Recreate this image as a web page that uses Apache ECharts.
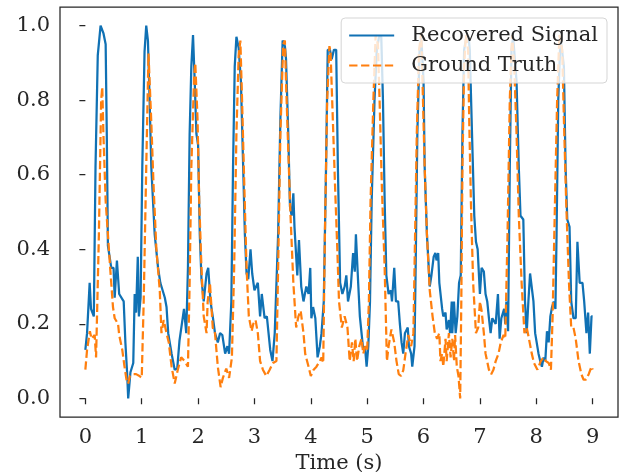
<!DOCTYPE html>
<html>
<head>
<meta charset="utf-8">
<script src="https://cdn.jsdelivr.net/npm/echarts@6/dist/echarts.min.js"></script>
<style>
  html, body { margin: 0; padding: 0; background: #fff; }
  #chart { width: 623px; height: 472px; }
</style>
</head>
<body>
<div id="chart"></div>
<script>
// [time (s), value]
const recoveredSignal = [
  [0, 0.13], [0.03, 0.175], [0.076, 0.31], [0.1, 0.24], [0.15, 0.22], [0.18, 0.62], [0.22, 0.92],
  [0.27, 1.0], [0.32, 0.98], [0.36, 0.95], [0.38, 0.71], [0.4, 0.41], [0.46, 0.35], [0.5, 0.35],
  [0.52, 0.27], [0.56, 0.37], [0.6, 0.28], [0.63, 0.28], [0.68, 0.26], [0.71, 0.15], [0.74, 0.07],
  [0.76, 0.0], [0.8, 0.07], [0.85, 0.095], [0.875, 0.28], [0.9, 0.23], [0.93, 0.38], [0.95, 0.22],
  [0.98, 0.27], [1.01, 0.62], [1.05, 0.93], [1.08, 1.0], [1.11, 0.96], [1.14, 0.8], [1.17, 0.62],
  [1.23, 0.44], [1.29, 0.35], [1.33, 0.31], [1.37, 0.29], [1.41, 0.27], [1.44, 0.245], [1.47, 0.175],
  [1.53, 0.12], [1.585, 0.077], [1.63, 0.08], [1.67, 0.155], [1.7, 0.15], [1.75, 0.24], [1.79, 0.175],
  [1.82, 0.35], [1.85, 0.71], [1.88, 0.89], [1.91, 0.975], [1.94, 0.85], [1.97, 0.71], [2.0, 0.68],
  [2.03, 0.44], [2.06, 0.32], [2.1, 0.26], [2.15, 0.335], [2.18, 0.35], [2.22, 0.26], [2.26, 0.22],
  [2.3, 0.175], [2.35, 0.15], [2.39, 0.175], [2.43, 0.17], [2.48, 0.12], [2.52, 0.14], [2.55, 0.12],
  [2.59, 0.26], [2.62, 0.62], [2.65, 0.89], [2.68, 0.97], [2.72, 0.94], [2.76, 0.85], [2.8, 0.62],
  [2.83, 0.44], [2.86, 0.335], [2.89, 0.32], [2.93, 0.4], [2.96, 0.335], [3.0, 0.29], [3.06, 0.31],
  [3.1, 0.22], [3.13, 0.28], [3.18, 0.215], [3.22, 0.22], [3.25, 0.175], [3.28, 0.13], [3.32, 0.1],
  [3.36, 0.175], [3.42, 0.44], [3.46, 0.75], [3.5, 0.96], [3.54, 0.945], [3.56, 0.91], [3.6, 0.71],
  [3.63, 0.515], [3.66, 0.49], [3.69, 0.55], [3.71, 0.46], [3.76, 0.33], [3.79, 0.425], [3.83, 0.3],
  [3.87, 0.26], [3.92, 0.3], [3.96, 0.28], [3.99, 0.35], [4.01, 0.215], [4.04, 0.245], [4.08, 0.215],
  [4.12, 0.11], [4.16, 0.14], [4.19, 0.175], [4.23, 0.26], [4.27, 0.62], [4.3, 0.935], [4.34, 0.935],
  [4.37, 0.91], [4.41, 0.935], [4.45, 0.935], [4.48, 0.62], [4.52, 0.31], [4.56, 0.28], [4.6, 0.3],
  [4.63, 0.33], [4.66, 0.26], [4.71, 0.3], [4.75, 0.39], [4.78, 0.34], [4.8, 0.44], [4.84, 0.31],
  [4.87, 0.22], [4.9, 0.175], [4.93, 0.13], [4.96, 0.14], [4.99, 0.085], [5.02, 0.14], [5.05, 0.26],
  [5.08, 0.53], [5.13, 0.8], [5.17, 0.935], [5.21, 0.97], [5.25, 0.97], [5.28, 0.8], [5.31, 0.53],
  [5.34, 0.33], [5.38, 0.28], [5.42, 0.29], [5.44, 0.26], [5.48, 0.35], [5.51, 0.26], [5.55, 0.26],
  [5.58, 0.2], [5.61, 0.15], [5.64, 0.12], [5.67, 0.175], [5.72, 0.19], [5.74, 0.14], [5.78, 0.12],
  [5.8, 0.085], [5.84, 0.14], [5.86, 0.35], [5.89, 0.71], [5.93, 0.935], [5.96, 0.97], [6.0, 0.85],
  [6.02, 0.62], [6.06, 0.44], [6.11, 0.3], [6.14, 0.33], [6.18, 0.38], [6.21, 0.39], [6.23, 0.37],
  [6.26, 0.39], [6.28, 0.31], [6.33, 0.24], [6.35, 0.22], [6.39, 0.23], [6.41, 0.185], [6.45, 0.21],
  [6.47, 0.175], [6.5, 0.26], [6.51, 0.175], [6.54, 0.26], [6.57, 0.175], [6.6, 0.22], [6.63, 0.31],
  [6.66, 0.33], [6.69, 0.71], [6.72, 0.935], [6.76, 0.97], [6.8, 0.97], [6.82, 0.935], [6.86, 0.71],
  [6.9, 0.49], [6.93, 0.42], [6.96, 0.4], [7.0, 0.28], [7.03, 0.35], [7.07, 0.34], [7.1, 0.28],
  [7.13, 0.26], [7.16, 0.215], [7.19, 0.175], [7.22, 0.215], [7.25, 0.22], [7.28, 0.2], [7.32, 0.28],
  [7.35, 0.16], [7.38, 0.215], [7.43, 0.24], [7.45, 0.2], [7.47, 0.26], [7.5, 0.18], [7.53, 0.62],
  [7.56, 0.935], [7.59, 0.97], [7.65, 0.85], [7.69, 0.62], [7.72, 0.49], [7.77, 0.48], [7.8, 0.26],
  [7.83, 0.175], [7.86, 0.26], [7.89, 0.335], [7.92, 0.33], [7.95, 0.26], [7.98, 0.175], [8.0, 0.18],
  [8.04, 0.12], [8.07, 0.1], [8.1, 0.085], [8.13, 0.11], [8.16, 0.1], [8.19, 0.18], [8.22, 0.15],
  [8.25, 0.22], [8.28, 0.245], [8.31, 0.26], [8.34, 0.24], [8.36, 0.44], [8.39, 0.8], [8.43, 0.97],
  [8.46, 0.97], [8.49, 0.89], [8.52, 0.62], [8.55, 0.48], [8.59, 0.46], [8.62, 0.26], [8.66, 0.215],
  [8.7, 0.215], [8.73, 0.42], [8.77, 0.31], [8.82, 0.31], [8.85, 0.26], [8.89, 0.175], [8.92, 0.23],
  [8.95, 0.12], [8.98, 0.22], [9.0, 0.22]
];

const groundTruth = [
  [0, 0.077], [0.03, 0.13], [0.08, 0.18], [0.11, 0.16], [0.165, 0.17], [0.19, 0.11], [0.24, 0.44],
  [0.28, 0.8], [0.3, 0.835], [0.32, 0.71], [0.36, 0.53], [0.4, 0.44], [0.44, 0.35], [0.49, 0.245],
  [0.52, 0.215], [0.58, 0.2], [0.6, 0.17], [0.655, 0.13], [0.69, 0.09], [0.73, 0.05], [0.76, 0.04],
  [0.79, 0.06], [0.85, 0.065], [0.9, 0.065], [0.96, 0.06], [1.0, 0.055], [1.035, 0.26], [1.08, 0.62],
  [1.12, 0.925], [1.14, 0.93], [1.17, 0.74], [1.21, 0.57], [1.26, 0.4], [1.32, 0.29], [1.35, 0.175],
  [1.39, 0.21], [1.44, 0.175], [1.48, 0.15], [1.53, 0.085], [1.585, 0.04], [1.64, 0.077], [1.7, 0.11],
  [1.76, 0.1], [1.82, 0.085], [1.85, 0.31], [1.88, 0.62], [1.93, 0.865], [1.95, 0.9], [1.99, 0.75],
  [2.02, 0.53], [2.06, 0.35], [2.1, 0.22], [2.15, 0.175], [2.17, 0.26], [2.21, 0.31], [2.26, 0.19],
  [2.3, 0.175], [2.35, 0.085], [2.4, 0.03], [2.44, 0.055], [2.5, 0.08], [2.55, 0.055], [2.6, 0.11],
  [2.64, 0.35], [2.68, 0.71], [2.72, 0.92], [2.75, 0.96], [2.78, 0.8], [2.82, 0.57], [2.86, 0.35],
  [2.9, 0.22], [2.95, 0.18], [2.98, 0.2], [3.02, 0.21], [3.06, 0.175], [3.1, 0.1], [3.15, 0.077],
  [3.21, 0.06], [3.27, 0.077], [3.33, 0.095], [3.39, 0.1], [3.42, 0.35], [3.46, 0.71], [3.51, 0.95],
  [3.54, 0.96], [3.56, 0.85], [3.6, 0.665], [3.64, 0.49], [3.69, 0.31], [3.74, 0.19], [3.78, 0.22],
  [3.82, 0.235], [3.87, 0.175], [3.9, 0.12], [3.96, 0.085], [4.0, 0.06], [4.05, 0.077], [4.1, 0.085],
  [4.16, 0.1], [4.19, 0.11], [4.22, 0.095], [4.25, 0.44], [4.29, 0.8], [4.33, 0.945], [4.35, 0.93],
  [4.39, 0.75], [4.43, 0.57], [4.47, 0.4], [4.5, 0.26], [4.55, 0.19], [4.6, 0.22], [4.65, 0.19],
  [4.69, 0.1], [4.73, 0.15], [4.76, 0.1], [4.79, 0.16], [4.82, 0.1], [4.86, 0.14], [4.9, 0.16],
  [4.93, 0.12], [4.97, 0.14], [5.0, 0.13], [5.03, 0.26], [5.06, 0.53], [5.11, 0.8], [5.15, 0.975],
  [5.19, 0.95], [5.22, 0.8], [5.26, 0.57], [5.31, 0.35], [5.35, 0.1], [5.38, 0.14], [5.43, 0.185],
  [5.48, 0.15], [5.52, 0.1], [5.56, 0.065], [5.6, 0.06], [5.64, 0.075], [5.68, 0.12], [5.73, 0.17],
  [5.78, 0.14], [5.82, 0.175], [5.85, 0.44], [5.88, 0.71], [5.92, 0.935], [5.96, 0.98], [5.99, 0.8],
  [6.02, 0.62], [6.06, 0.44], [6.11, 0.29], [6.16, 0.22], [6.2, 0.175], [6.24, 0.16], [6.28, 0.175],
  [6.3, 0.1], [6.33, 0.12], [6.35, 0.085], [6.39, 0.16], [6.41, 0.1], [6.45, 0.175], [6.48, 0.11],
  [6.51, 0.16], [6.54, 0.1], [6.56, 0.17], [6.59, 0.085], [6.62, 0.06], [6.65, 0.0], [6.67, 0.26],
  [6.69, 0.62], [6.72, 0.89], [6.75, 0.975], [6.79, 0.935], [6.81, 0.75], [6.84, 0.53], [6.88, 0.31],
  [6.93, 0.175], [6.97, 0.19], [7.0, 0.26], [7.03, 0.235], [7.07, 0.175], [7.1, 0.12], [7.16, 0.077],
  [7.2, 0.065], [7.24, 0.077], [7.28, 0.1], [7.33, 0.12], [7.37, 0.15], [7.42, 0.17], [7.45, 0.16],
  [7.49, 0.44], [7.53, 0.8], [7.57, 0.975], [7.61, 0.89], [7.65, 0.71], [7.69, 0.49], [7.74, 0.31],
  [7.79, 0.175], [7.83, 0.19], [7.87, 0.16], [7.92, 0.12], [7.96, 0.095], [8.02, 0.077], [8.08, 0.1],
  [8.13, 0.11], [8.17, 0.1], [8.22, 0.095], [8.26, 0.077], [8.29, 0.22], [8.32, 0.44], [8.37, 0.8],
  [8.41, 0.975], [8.46, 0.935], [8.49, 0.75], [8.53, 0.53], [8.58, 0.31], [8.62, 0.19], [8.66, 0.19],
  [8.7, 0.16], [8.75, 0.1], [8.8, 0.065], [8.84, 0.05], [8.88, 0.05], [8.93, 0.065], [8.98, 0.085],
  [9.0, 0.077]
];

const xTicks = [0, 1, 2, 3, 4, 5, 6, 7, 8, 9];
const yTicks = [0, 0.2, 0.4, 0.6, 0.8, 1.0];

const ink = '#262626';
const font = 'DejaVu Serif';
const blue = '#1071b4';
const orange = '#ff7f0e';

const chart = echarts.init(document.getElementById('chart'));

chart.setOption({
  animation: false,
  textStyle: { fontFamily: font, color: ink },
  grid: {
    left: 60, right: 5, top: 7, bottom: 55,
    outerBoundsMode: 'none',
    containLabel: false,
    show: true,
    borderColor: ink,
    borderWidth: 1.25,
    backgroundColor: 'transparent'
  },
  legend: {
    orient: 'vertical',
    right: 16,
    top: 18,
    padding: [7, 9, 7, 7],
    itemGap: 9,
    itemWidth: 45,
    itemHeight: 14,
    itemStyle: { opacity: 0 },
    backgroundColor: 'rgba(255,255,255,0.8)',
    borderColor: '#d5d5d5',
    borderWidth: 1,
    borderRadius: 4,
    textStyle: { fontFamily: font, fontSize: 21, color: ink, padding: [0, 0, 0, 12] },
    data: ['Recovered Signal', 'Ground Truth']
  },
  xAxis: {
    type: 'value',
    min: -0.45,
    max: 9.45,
    name: 'Time (s)',
    nameLocation: 'middle',
    nameGap: 35,
    nameTextStyle: { fontFamily: font, fontSize: 21, color: ink },
    axisLine: { show: false },
    axisTick: { show: true, inside: false, length: 6, customValues: xTicks, lineStyle: { color: ink, width: 1.25 } },
    axisLabel: { customValues: xTicks, margin: 10, fontFamily: font, fontSize: 21, color: ink },
    splitLine: { show: false }
  },
  yAxis: {
    type: 'value',
    min: -0.05,
    max: 1.05,
    axisLine: { show: false },
    axisTick: { show: true, inside: false, length: 6, customValues: yTicks, lineStyle: { color: ink, width: 1.25 } },
    axisLabel: {
      customValues: yTicks, margin: 10, fontFamily: font, fontSize: 21, color: ink,
      formatter: v => v.toFixed(1)
    },
    splitLine: { show: false }
  },
  series: [
    {
      name: 'Recovered Signal',
      type: 'line',
      data: recoveredSignal,
      showSymbol: false,
      symbol: 'none',
      color: blue,
      lineStyle: { color: blue, width: 2.25 }
    },
    {
      name: 'Ground Truth',
      type: 'line',
      data: groundTruth,
      showSymbol: false,
      symbol: 'none',
      color: orange,
      lineStyle: { color: orange, width: 2.25, type: [8.3, 3.6] }
    }
  ]
});
</script>
</body>
</html>
